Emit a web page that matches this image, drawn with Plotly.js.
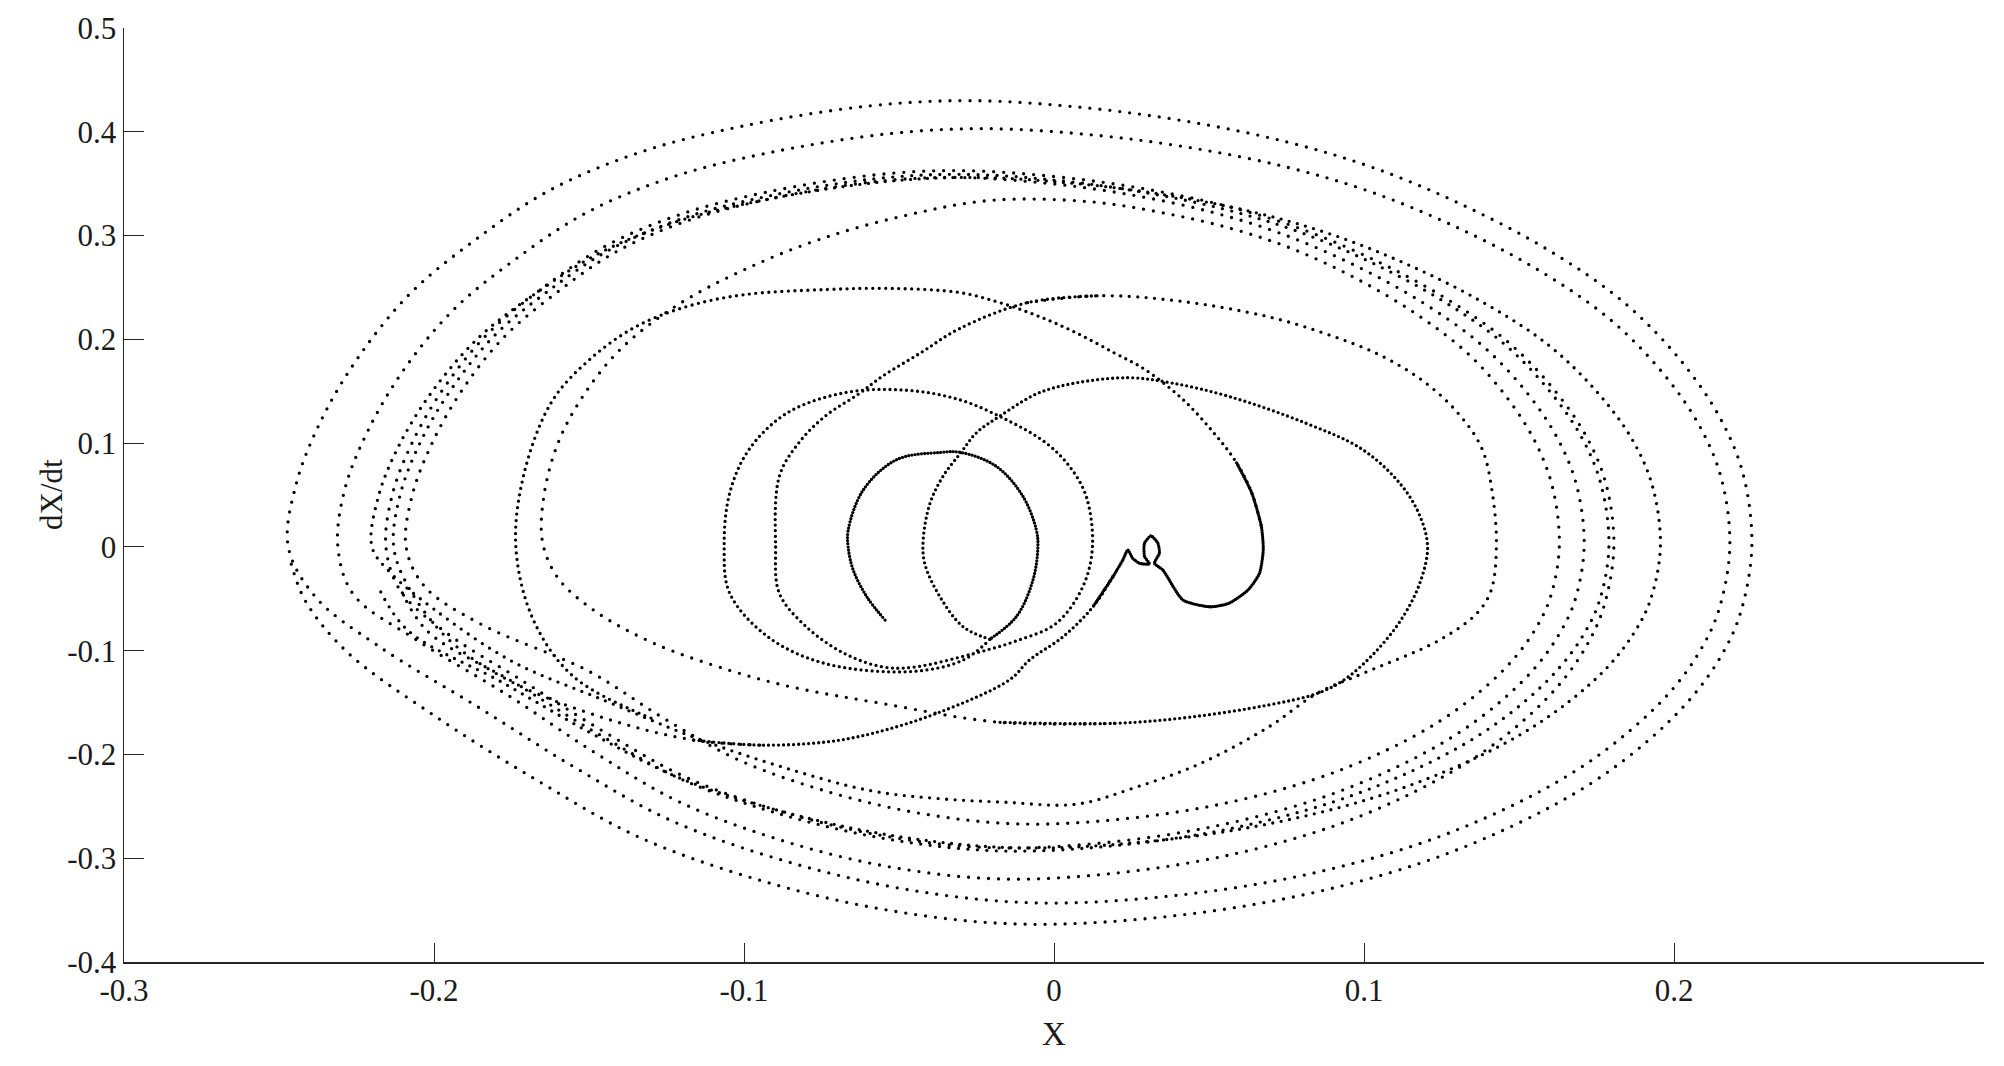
<!DOCTYPE html>
<html>
<head>
<meta charset="utf-8">
<script src="https://cdn.plot.ly/plotly-3.0.1.min.js"></script>
<style>
  html, body { margin: 0; padding: 0; background: #fff; }
  #chart { width: 2004px; height: 1066px; }
  .scatterlayer .js-line { stroke-linecap: round; }
</style>
</head>
<body>
<div id="chart"></div>
<script>
// ---- axis ticks ----
const xTickVals = [-0.3, -0.2, -0.1, 0, 0.1, 0.2];
const xTickText = ['-0.3', '-0.2', '-0.1', '0', '0.1', '0.2'];
const yTickVals = [-0.4, -0.3, -0.2, -0.1, 0, 0.1, 0.2, 0.3, 0.4, 0.5];
const yTickText = ['-0.4', '-0.3', '-0.2', '-0.1', '0', '0.1', '0.2', '0.3', '0.4', '0.5'];

// ---- trajectory pieces (X, dX/dt) ----
// innermost loop, from the free end
const c1X = [-0.0545,-0.0604,-0.0648,-0.0664,-0.0664,-0.0615,-0.0508,-0.0368,-0.0300,-0.0186,-0.0100,-0.0057,-0.0052,-0.0068,-0.0121,-0.0207];
const c1Y = [-0.0705,-0.0480,-0.0220,0.0000,0.0160,0.0550,0.0840,0.0910,0.0910,0.0776,0.0486,0.0164,0.0000,-0.0320,-0.0670,-0.0890];

// second loop (left -0.042, right 0.12)
const r2X = [-0.0207,-0.0293,-0.0368,-0.0417,-0.0422,-0.0400,-0.0358,-0.0300,-0.0250,-0.0175,-0.0052,0.0071,0.0243,0.0379,0.0564,0.0810,0.0996,0.1119,0.1180,0.1205,0.1180,0.1119,0.1032,0.0934,0.0848,0.0687,0.0440,0.0195,-0.0175];
const r2Y = [-0.0890,-0.0770,-0.0480,-0.0160,0.0068,0.0420,0.0680,0.0910,0.1100,0.1260,0.1480,0.1580,0.1630,0.1580,0.1450,0.1195,0.0937,0.0600,0.0300,0.0000,-0.0350,-0.0705,-0.1027,-0.1285,-0.1413,-0.1526,-0.1640,-0.1700,-0.1690];

// next loop: through (-0.165, 0), top 0.335, right 0.163
const pX = [0.0195,-0.0175,-0.0553,-0.0846,-0.1046,-0.1290,-0.1480,-0.1600,-0.1650,-0.1645,-0.1600,-0.1520,-0.1400,-0.1220,-0.1000,-0.0750,-0.0470,-0.0200,0.0115,0.0348,0.0574,0.0771,0.0971,0.1170,0.1340,0.1467,0.1557,0.1610,0.1630,0.1602,0.1557,0.1487,0.1383,0.1247,0.1066,0.0840,0.0544,0.0221,-0.0107,-0.0409,-0.0712,-0.1015,-0.1258,-0.1502,-0.1850,-0.2030];
const pY = [-0.1700,-0.1690,-0.1510,-0.1350,-0.1190,-0.0930,-0.0620,-0.0300,0.0050,0.0500,0.1000,0.1450,0.1900,0.2320,0.2670,0.2970,0.3200,0.3340,0.3326,0.3221,0.3066,0.2870,0.2592,0.2241,0.1849,0.1416,0.0984,0.0551,0.0000,-0.0478,-0.0772,-0.1065,-0.1372,-0.1674,-0.1968,-0.2240,-0.2475,-0.2622,-0.2670,-0.2579,-0.2374,-0.2056,-0.1653,-0.1196,-0.0742,-0.0382];

// outer loops
const qX = [-0.2090,-0.2071,-0.2006,-0.1908,-0.1775,-0.1611,-0.1414,-0.1178,-0.0916,-0.0585,-0.0319,-0.0019,0.0247,0.0505,0.0730,0.0958,0.1186,0.1379,0.1524,0.1626,0.1687,0.1710,0.1680,0.1630,0.1554,0.1440,0.1292,0.1094,0.0847,0.0524,0.0171,-0.0186,-0.0517,-0.0847,-0.1178,-0.1444,-0.1710,-0.1970,-0.2110];
const qY = [0.0000,0.0488,0.1000,0.1517,0.2019,0.2435,0.2841,0.3147,0.3354,0.3517,0.3560,0.3503,0.3393,0.3229,0.3022,0.2731,0.2360,0.1947,0.1492,0.1036,0.0580,0.0000,-0.0519,-0.0838,-0.1157,-0.1491,-0.1818,-0.2137,-0.2433,-0.2688,-0.2848,-0.2900,-0.2801,-0.2578,-0.2233,-0.1795,-0.1299,-0.0806,-0.0415];

const sX = [-0.2155,-0.2135,-0.2068,-0.1965,-0.1826,-0.1656,-0.1450,-0.1204,-0.0931,-0.0586,-0.0309,0.0004,0.0281,0.0550,0.0784,0.1022,0.1259,0.1461,0.1612,0.1719,0.1782,0.1806,0.1774,0.1723,0.1644,0.1525,0.1370,0.1164,0.0907,0.0570,0.0202,-0.0171,-0.0515,-0.0860,-0.1204,-0.1482,-0.1759,-0.2060,-0.2260];
const sY = [0.0000,0.0497,0.1019,0.1545,0.2056,0.2480,0.2894,0.3205,0.3416,0.3582,0.3626,0.3568,0.3456,0.3289,0.3078,0.2781,0.2404,0.1983,0.1519,0.1055,0.0591,0.0000,-0.0573,-0.0925,-0.1277,-0.1645,-0.2006,-0.2358,-0.2685,-0.2966,-0.3142,-0.3200,-0.3091,-0.2845,-0.2464,-0.1981,-0.1434,-0.0890,-0.0458];

const tX = [-0.2310,-0.2288,-0.2211,-0.2095,-0.1937,-0.1744,-0.1511,-0.1232,-0.0923,-0.0532,-0.0218,0.0137,0.0451,0.0757,0.1022,0.1291,0.1560,0.1789,0.1960,0.2081,0.2153,0.2180,0.2144,0.2086,0.1996,0.1861,0.1686,0.1453,0.1161,0.0779,0.0362,-0.0061,-0.0451,-0.0842,-0.1232,-0.1547,-0.1861,-0.2180,-0.2380];
const tY = [0.0000,0.0552,0.1132,0.1717,0.2285,0.2757,0.3216,0.3563,0.3796,0.3982,0.4030,0.3966,0.3841,0.3655,0.3421,0.3091,0.2672,0.2204,0.1689,0.1173,0.0657,0.0000,-0.0614,-0.0991,-0.1369,-0.1763,-0.2151,-0.2528,-0.2878,-0.3180,-0.3368,-0.3430,-0.3313,-0.3049,-0.2641,-0.2123,-0.1537,-0.0954,-0.0490];

const gX = [-0.2470,-0.2446,-0.2366,-0.2243,-0.2078,-0.1875,-0.1630,-0.1337,-0.1011,-0.0600,-0.0270,0.0103,0.0433,0.0754,0.1033,0.1316,0.1600,0.1840,0.2020,0.2147,0.2223,0.2251,0.2213,0.2152,0.2057,0.1916,0.1732,0.1486,0.1179,0.0778,0.0339,-0.0105,-0.0515,-0.0926,-0.1337,-0.1667,-0.1998,-0.2281,-0.2415,-0.2462];
const gY = [0.0000,0.0589,0.1208,0.1832,0.2438,0.2941,0.3431,0.3801,0.4051,0.4248,0.4300,0.4231,0.4098,0.3900,0.3651,0.3298,0.2851,0.2352,0.1802,0.1251,0.0701,0.0000,-0.0651,-0.1051,-0.1450,-0.1868,-0.2279,-0.2679,-0.3050,-0.3370,-0.3570,-0.3635,-0.3511,-0.3232,-0.2799,-0.2250,-0.1628,-0.1011,-0.0520,-0.0150];

// loop through (-0.107, 0) and (0.0124, 0), then the steep rising arc
const c2X = [-0.0207,-0.0293,-0.0456,-0.0738,-0.0923,-0.1046,-0.1064,-0.1046,-0.0984,-0.0861,-0.0676,-0.0479,-0.0307,-0.0150,-0.0025,0.0050,0.0104,0.0124,0.0093,0.0007,-0.0121,-0.0250,-0.0456,-0.0553,-0.0676,-0.0799,-0.0886,-0.0898,-0.0886,-0.0824,-0.0738,-0.0627,-0.0553,-0.0430,-0.0307,-0.0085,0.0147];
const c2Y = [-0.0892,-0.1090,-0.1200,-0.1124,-0.0866,-0.0447,0.0000,0.0520,0.0937,0.1290,0.1485,0.1510,0.1420,0.1220,0.1000,0.0776,0.0486,0.0000,-0.0383,-0.0737,-0.0905,-0.1020,-0.1160,-0.1156,-0.1027,-0.0770,-0.0447,0.0000,0.0680,0.1000,0.1260,0.1480,0.1645,0.1870,0.2100,0.2354,0.2420];

// loop with top 0.24 and right 0.143, then outer loop through (-0.22, 0)
const m2X = [-0.0085,0.0147,0.0400,0.0688,0.0880,0.1050,0.1190,0.1300,0.1380,0.1415,0.1427,0.1410,0.1364,0.1242,0.0996,0.0848,0.0690,0.0470,0.0260,0.0070,-0.0160,-0.0375,-0.0590,-0.0878,-0.1165,-0.1450,-0.1750,-0.2000,-0.2140];
const m2Y = [0.2354,0.2420,0.2370,0.2220,0.2050,0.1850,0.1600,0.1300,0.0950,0.0500,0.0000,-0.0420,-0.0640,-0.0900,-0.1220,-0.1413,-0.1740,-0.2090,-0.2320,-0.2480,-0.2460,-0.2425,-0.2350,-0.2120,-0.1830,-0.1480,-0.1100,-0.0600,-0.0250];

const uX = [-0.2200,-0.2179,-0.2109,-0.2001,-0.1855,-0.1676,-0.1460,-0.1203,-0.0916,-0.0554,-0.0263,0.0065,0.0356,0.0639,0.0884,0.1133,0.1382,0.1594,0.1752,0.1865,0.1931,0.1956,0.1923,0.1869,0.1786,0.1661,0.1499,0.1283,0.1013,0.0659,0.0273,-0.0118,-0.0479,-0.0841,-0.1203,-0.1493,-0.1784,-0.2084,-0.2175];
const uY = [0.0000,0.0488,0.1000,0.1517,0.2019,0.2435,0.2841,0.3147,0.3354,0.3517,0.3560,0.3503,0.3393,0.3229,0.3022,0.2731,0.2360,0.1947,0.1492,0.1036,0.0580,0.0000,-0.0519,-0.0838,-0.1157,-0.1491,-0.1818,-0.2137,-0.2433,-0.2688,-0.2848,-0.2900,-0.2801,-0.2578,-0.2233,-0.1795,-0.1299,-0.0806,-0.0415];

// loop through (-0.174, 0), top 0.248, narrow right lobe at 0.068
const c3X = [-0.1300,-0.1550,-0.1680,-0.1736,-0.1710,-0.1620,-0.1500,-0.1350,-0.1180,-0.1000,-0.0734,-0.0518,-0.0303,-0.0175,-0.0052,0.0071,0.0194,0.0293,0.0416,0.0515,0.0589,0.0638,0.0669];
const c3Y = [-0.1650,-0.1250,-0.0700,0.0000,0.0700,0.1400,0.1800,0.2120,0.2320,0.2430,0.2480,0.2490,0.2450,0.2354,0.2225,0.2064,0.1870,0.1710,0.1420,0.1100,0.0810,0.0520,0.0196];

// slow part: right lobe bottom, small curl and cusp
const r1X = [0.0589,0.0638,0.0669,0.0675,0.0663,0.0626,0.0564,0.0503,0.0416,0.0351,0.0324,0.0340,0.0335,0.0313,0.0292,0.0292,0.0308,0.0276,0.0254,0.0238,0.0222,0.0190,0.0125];
const r1Y = [0.0810,0.0520,0.0196,-0.0030,-0.0254,-0.0415,-0.0544,-0.0577,-0.0512,-0.0222,-0.0158,-0.0061,0.0036,0.0106,0.0036,-0.0093,-0.0164,-0.0158,-0.0110,-0.0030,-0.0126,-0.0287,-0.0580];

// from the cusp down-left
const dgX = [0.0190,0.0125,0.0029,-0.0079,-0.0143,-0.0375,-0.0590,-0.0736,-0.0949,-0.1165];
const dgY = [-0.0287,-0.0580,-0.0866,-0.1090,-0.1280,-0.1600,-0.1800,-0.1880,-0.1910,-0.1860];

// then the outer loop through (-0.213, 0)
const rrX = [-0.0949,-0.1165,-0.1450,-0.1750,-0.1950,-0.2080,-0.2130,-0.2110,-0.2044,-0.1942,-0.1805,-0.1636,-0.1432,-0.1189,-0.0919,-0.0578,-0.0303,0.0006,0.0281,0.0547,0.0779,0.1014,0.1249,0.1449,0.1598,0.1704,0.1766,0.1790,0.1759,0.1708,0.1629,0.1512,0.1359,0.1155,0.0900,0.0567,0.0202,-0.0166,-0.0507,-0.0848,-0.1189,-0.1464,-0.1738,-0.2020,-0.2106];
const rrY = [-0.1910,-0.1860,-0.1650,-0.1300,-0.0900,-0.0400,0.0000,0.0492,0.1009,0.1529,0.2036,0.2456,0.2865,0.3174,0.3382,0.3547,0.3590,0.3533,0.3421,0.3256,0.3048,0.2754,0.2380,0.1964,0.1504,0.1045,0.0585,0.0000,-0.0524,-0.0847,-0.1169,-0.1506,-0.1837,-0.2159,-0.2458,-0.2716,-0.2877,-0.2930,-0.2830,-0.2605,-0.2256,-0.1814,-0.1313,-0.0815,-0.0419];

// ---- build traces: each piece drawn as a dotted spline through the library's axes ----
const cat = (...arrs) => [].concat(...arrs);
const pieces = [
  {x: c1X, y: c1Y, gap: 3.2, sm: 1},
  {x: r2X, y: r2Y, gap: 5, sm: 1},
  {x: cat(pX, qX, sX, tX, gX), y: cat(pY, qY, sY, tY, gY), gap: 10, sm: 1},
  {x: c2X, y: c2Y, gap: 5.5, sm: 1},
  {x: cat(m2X, uX), y: cat(m2Y, uY), gap: 8.5, sm: 1},
  {x: c3X, y: c3Y, gap: 6.5, sm: 1},
  {x: r1X, y: r1Y, gap: 2.2, sm: 0.6},
  {x: dgX, y: dgY, gap: 5, sm: 1},
  {x: rrX, y: rrY, gap: 9.5, sm: 1}
];

const traces = pieces.map(p => ({
  type: 'scatter',
  mode: 'lines',
  x: p.x,
  y: p.y,
  line: {shape: 'spline', smoothing: p.sm, color: '#000000', width: 3.3, dash: '0px,' + p.gap + 'px'},
  hoverinfo: 'skip',
  showlegend: false
}));

const serif = 'Liberation Serif, Times New Roman, serif';
const axisFont = {family: serif, size: 31, color: '#1a1a1a'};

const layout = {
  width: 2004,
  height: 1066,
  margin: {l: 124, r: 20, t: 28, b: 104},
  paper_bgcolor: '#ffffff',
  plot_bgcolor: '#ffffff',
  showlegend: false,
  xaxis: {
    range: [-0.3, 0.3],
    tickmode: 'array', tickvals: xTickVals, ticktext: xTickText,
    ticks: 'inside', ticklen: 19, tickwidth: 1, tickcolor: '#262626',
    showline: true, linecolor: '#262626', linewidth: 1.5,
    showgrid: false, zeroline: false,
    tickfont: axisFont,
    title: {text: ''},
    fixedrange: true
  },
  yaxis: {
    range: [-0.4, 0.5],
    tickmode: 'array', tickvals: yTickVals, ticktext: yTickText,
    ticks: 'inside', ticklen: 20, tickwidth: 1, tickcolor: '#262626',
    showline: true, linecolor: '#262626', linewidth: 1.5,
    showgrid: false, zeroline: false,
    tickfont: axisFont,
    title: {text: ''},
    fixedrange: true
  },
  annotations: [
    {text: 'X', xref: 'x', x: 0, yref: 'paper', y: 0, yshift: -72, showarrow: false,
     xanchor: 'center', yanchor: 'middle', font: {family: serif, size: 33, color: '#1a1a1a'}},
    {text: 'dX/dt', xref: 'paper', x: 0, xshift: -73, yref: 'paper', y: 0.5, textangle: -90, showarrow: false,
     xanchor: 'center', yanchor: 'middle', font: {family: serif, size: 31, color: '#1a1a1a'}}
  ]
};

Plotly.newPlot('chart', traces, layout, {staticPlot: true, displayModeBar: false});
</script>
</body>
</html>
